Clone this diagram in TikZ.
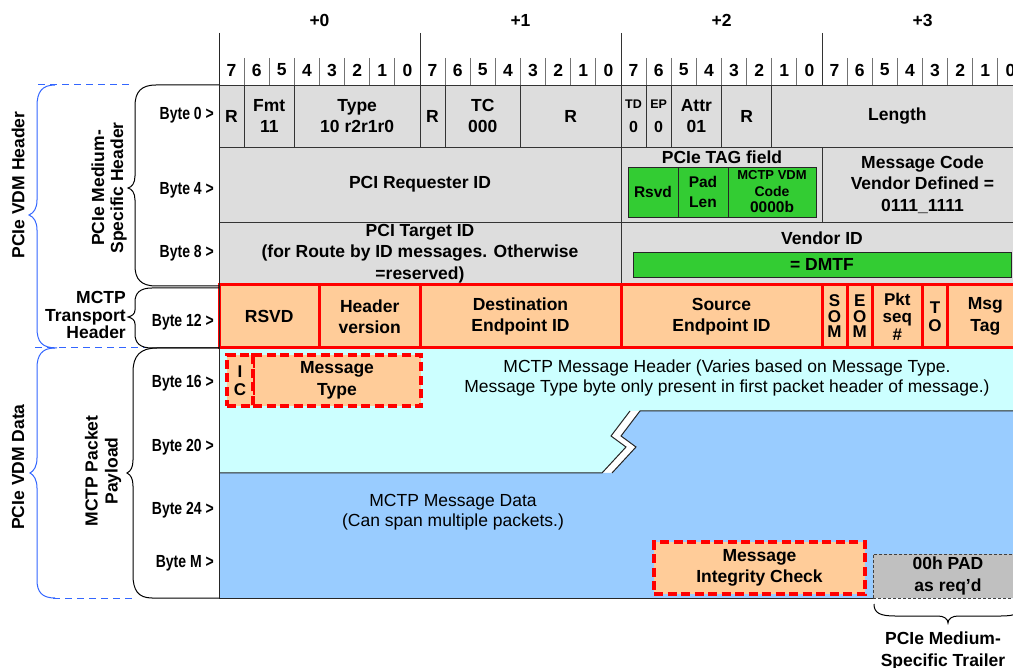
\documentclass[tikz,border=0pt]{standalone}
\usepackage{fontspec}
\setmainfont{Liberation Sans}
\usepackage{graphicx}

\definecolor{cellgray}{HTML}{DDDDDD}
\definecolor{peach}{HTML}{FFCC99}
\definecolor{paleCyan}{HTML}{CCFFFF}
\definecolor{skyBlue}{HTML}{99CCFF}
\definecolor{tagGreen}{HTML}{33CC33}
\definecolor{padGray}{HTML}{C0C0C0}
\definecolor{braceBlue}{HTML}{3366FF}
\definecolor{fieldRed}{HTML}{FF0000}

% #1 style, #2 name, #3 x1, #4 y1, #5 x2, #6 y2, #7 text
\newcommand\fieldcell[7]{%
  \node[#1, minimum width={(#5-#3)*1pt}, minimum height={(#6-#4)*1pt}]
    (#2) at ({(#3+#5)/2},{(#4+#6)/2}) {#7};}
% #1 name, #2 y, #3 text
\newcommand\bytelbl[3]{%
  \node[bytelabel] (#1) at (214,#2) {\scalebox{0.8}[1]{#3}};}

\tikzset{
  bftext/.style={font=\fontsize{17.5}{21.5}\selectfont\bfseries, inner sep=0pt, align=center},
  plaintext/.style={font=\fontsize{17.5}{20.5}\selectfont, inner sep=0pt, align=center},
  field/.style={bftext, draw=black!80, line width=0.9pt, fill=cellgray},
  tagbox/.style={bftext, draw=black!85, line width=0.9pt, fill=tagGreen},
  trans/.style={bftext, draw=fieldRed, line width=3pt, fill=peach},
  dashbox/.style={bftext, draw=fieldRed, line width=3.5pt, dash pattern=on 9pt off 4.5pt, fill=peach},
  padbox/.style={draw=black!75, line width=0.8pt, dash pattern=on 3pt off 2pt, fill=padGray, inner sep=0pt},
  bytelabel/.style={font=\fontsize{17.5}{20}\selectfont\bfseries, inner sep=0pt, anchor=east},
  bitnum/.style={font=\fontsize{17.5}{20}\selectfont\bfseries, inner sep=0pt},
  bitsep/.style={draw=black!55, line width=0.8pt},
  bytesep/.style={draw=black!80, line width=1pt},
  outline/.style={draw=black!85, line width=1pt},
  blackbrace/.style={draw=black, line width=1pt},
  bluebrace/.style={draw=braceBlue, line width=1pt},
  bluedash/.style={draw=braceBlue, line width=1pt, dash pattern=on 7pt off 5pt},
  stacked/.style={font=\fontsize{17}{#1}\selectfont\bfseries},
}

\begin{document}
\begin{tikzpicture}[x=1pt,y=-1pt]
\useasboundingbox (0,0) rectangle (1013,668);
\clip (0,0) rectangle (1013,668);

% ---- payload backgrounds (header part and data part, split by a break mark)
\fill[paleCyan] (219,348) -- (1023,348) -- (1023,411) -- (630,411) -- (611,436)
  -- (626,447) -- (602,473) -- (219,473) -- cycle;
\fill[skyBlue] (640,411) -- (1023,411) -- (1023,598) -- (219,598) -- (219,473)
  -- (612,473) -- (636,447) -- (621,436) -- cycle;
\draw[outline] (219,473) -- (602,473) -- (626,447) -- (611,436) -- (630,411);
\draw[outline] (612,473) -- (636,447) -- (621,436) -- (640,411) -- (1023,411);

% ---- bit ruler
\foreach \k in {0,...,31} {
  \draw[bitsep] ({219+25.125*\k},58) -- ({219+25.125*\k},85);
  \pgfmathsetmacro\xc{219+25.125*(\k+0.5)}
  \pgfmathtruncatemacro\lab{7-mod(\k,8)}
  \node[bitnum] (bit\k) at (\xc,70) {\lab};
}
\foreach \k in {0,...,4}
  \draw[bytesep] ({219+201*\k},33) -- ({219+201*\k},85);
\foreach \k in {0,...,3}
  \node[bitnum] (off\k) at ({319.5+201*\k},20) {+\k};

% ---- byte 0
\fieldcell{field}{rsvA}{219}{85}{244.125}{147}{R}
\fieldcell{field}{fmt}{244.125}{85}{294.375}{147}{Fmt\\11}
\fieldcell{field}{type}{294.375}{85}{420}{147}{Type\\10 r2r1r0}
\fieldcell{field}{rsvB}{420}{85}{445.125}{147}{R}
\fieldcell{field}{tc}{445.125}{85}{520.5}{147}{TC\\000}
\fieldcell{field}{rsvC}{520.5}{85}{621}{147}{R}
\fieldcell{field, font=\fontsize{12.5}{24}\selectfont\bfseries}{td}{621}{85}{646.125}{147}{TD\\\fontsize{16}{24}\selectfont 0}
\fieldcell{field, font=\fontsize{12.5}{24}\selectfont\bfseries}{ep}{646.125}{85}{671.25}{147}{EP\\\fontsize{16}{24}\selectfont 0}
\fieldcell{field}{attr}{671.25}{85}{721.5}{147}{Attr\\01}
\fieldcell{field}{rsvD}{721.5}{85}{771.75}{147}{R}
\fieldcell{field}{len}{771.75}{85}{1023}{147}{Length}

% ---- byte 4
\fieldcell{field}{reqid}{219}{147}{621}{222}{PCI Requester ID}
\fieldcell{field}{tagfield}{621}{147}{822}{222}{}
\node[bftext] (taglbl) at (722,157) {PCIe TAG field};
\fieldcell{tagbox, font=\fontsize{15.5}{20}\selectfont\bfseries}{tagrsvd}{628}{167}{678}{217}{Rsvd}
\fieldcell{tagbox, font=\fontsize{15.5}{20}\selectfont\bfseries}{tagpad}{678}{167}{728}{217}{Pad\\Len}
\fieldcell{tagbox, font=\fontsize{13}{16.5}\selectfont\bfseries}{tagcode}{728}{167}{816}{217}{MCTP VDM\\\fontsize{14}{16.5}\selectfont Code\\\fontsize{15.5}{16.5}\selectfont 0000b}
\fieldcell{field}{msgcode}{822}{147}{1023}{222}{Message Code\\Vendor Defined =\\0111\_1111}

% ---- byte 8
\fieldcell{field}{tgtid}{219}{222}{621}{285}{PCI Target ID\\(for Route by ID messages. Otherwise\\=reserved)}
\fieldcell{field}{vendor}{621}{222}{1023}{285}{}
\node[bftext] (vendlbl) at (822,238) {Vendor ID};
\fieldcell{tagbox}{dmtf}{633}{252}{1011}{277}{= DMTF}

% ---- byte 12: MCTP transport header
\fieldcell{trans}{rsvd}{219}{285}{319.5}{348}{RSVD}
\fieldcell{trans}{hdrver}{319.5}{285}{420}{348}{Header\\version}
\fieldcell{trans}{dest}{420}{285}{621}{348}{Destination\\Endpoint ID}
\fieldcell{trans}{src}{621}{285}{822}{348}{Source\\Endpoint ID}
\fieldcell{trans, stacked=15.5}{som}{822}{285}{847.125}{348}{S\\O\\M}
\fieldcell{trans, stacked=15.5}{eom}{847.125}{285}{872.25}{348}{E\\O\\M}
\fieldcell{trans, stacked=17.5}{pktseq}{872.25}{285}{922.5}{348}{Pkt\\seq\\\#}
\fieldcell{trans, stacked=18}{to}{922.5}{285}{947.625}{348}{T\\O}
\fieldcell{trans}{msgtag}{947.625}{285}{1023}{348}{Msg\\Tag}

% ---- payload
\fieldcell{dashbox}{msgtype}{253}{355}{421}{406}{Message\\Type}
\fieldcell{dashbox, stacked=17.5}{ic}{227}{355}{253}{406}{I\\C}
\node[plaintext] (mhdr) at (727,378) {MCTP Message Header (Varies based on Message Type.\\Message Type byte only present in first packet header of message.)};
\node[plaintext] (mdata) at (453,512) {MCTP Message Data\\(Can span multiple packets.)};
\fieldcell{dashbox}{mic}{654}{542}{865}{594}{Message\\Integrity Check}
\fieldcell{padbox}{pad}{873}{554}{1023}{598}{}
\node[bftext] (padlbl) at (948,576) {00h PAD\\as req’d};

% ---- table frame
\draw[outline] (219,33) -- (219,598) -- (873,598);

% ---- byte offsets
\bytelbl{by0}{115}{Byte 0 >}
\bytelbl{by4}{190}{Byte 4 >}
\bytelbl{by8}{253}{Byte 8 >}
\bytelbl{by12}{322}{Byte 12 >}
\bytelbl{by16}{383}{Byte 16 >}
\bytelbl{by20}{447}{Byte 20 >}
\bytelbl{by24}{510}{Byte 24 >}
\bytelbl{byM}{563}{Byte M >}

% ---- grouping braces
\draw[bluedash] (38,85) -- (133,85);
\draw[bluedash] (35,348) -- (145,348);
\draw[bluedash] (53,598) -- (135,598);

\draw[blackbrace] (219,85) -- (156,85) .. controls (141,85) and (135,92) .. (135,106)
  -- (135,176) .. controls (135,183) and (132,187) .. (128,188)
  .. controls (132,189) and (135,193) .. (135,200)
  -- (135,266) .. controls (135,279) and (141,286) .. (156,286) -- (219,286);
\draw[blackbrace] (219,288) -- (152,288) .. controls (140,288) and (135,293) .. (135,302)
  -- (135,310) .. controls (135,314) and (132,316) .. (128,317)
  .. controls (132,318) and (135,320) .. (135,324)
  -- (135,334) .. controls (135,343) and (140,348) .. (152,348) -- (219,348);
\draw[blackbrace] (219,348) -- (157,348) .. controls (140,348) and (133,356) .. (133,372)
  -- (133,460) .. controls (133,467) and (131,471) .. (127,473)
  .. controls (131,475) and (133,479) .. (133,486)
  -- (133,575) .. controls (133,590) and (138,598) .. (152,598) -- (219,598);

\draw[bluebrace] (55,85) .. controls (42,85) and (37,92) .. (37,106)
  -- (37,200) .. controls (37,208) and (34,213) .. (29,215)
  .. controls (34,217) and (37,222) .. (37,230)
  -- (37,328) .. controls (37,342) and (42,348) .. (57,348);
\draw[bluebrace] (55,348) .. controls (42,348) and (37,355) .. (37,368)
  -- (37,458) .. controls (37,466) and (34,471) .. (30,473)
  .. controls (34,475) and (37,480) .. (37,488)
  -- (37,580) .. controls (37,592) and (42,598) .. (55,598);

\draw[blackbrace] (874,604) .. controls (874,613) and (880,616) .. (895,616)
  -- (938,616) .. controls (944,616) and (948,619) .. (948,623)
  .. controls (948,619) and (952,616) .. (958,616)
  -- (1001,616) .. controls (1016,616) and (1022,613) .. (1022,604);

\node[bftext, rotate=90] (vdmhdr) at (18,185) {PCIe VDM Header};
\node[bftext, rotate=90] (vdmdata) at (18,467) {PCIe VDM Data};
\node[bftext, rotate=90, font=\fontsize{17.5}{19}\selectfont\bfseries] (medhdr) at (109,188) {PCIe Medium-\\Specific Header};
\node[bftext, rotate=90, font=\fontsize{17.5}{20}\selectfont\bfseries] (payload) at (103,471) {MCTP Packet\\Payload};
\node[bftext, anchor=east, align=right, font=\fontsize{17.5}{17.5}\selectfont\bfseries] (transhdr) at (126,315) {MCTP\\Transport\\Header};
\node[bftext] (trailer) at (943,651) {PCIe Medium-\\Specific Trailer};
\end{tikzpicture}
\end{document}
